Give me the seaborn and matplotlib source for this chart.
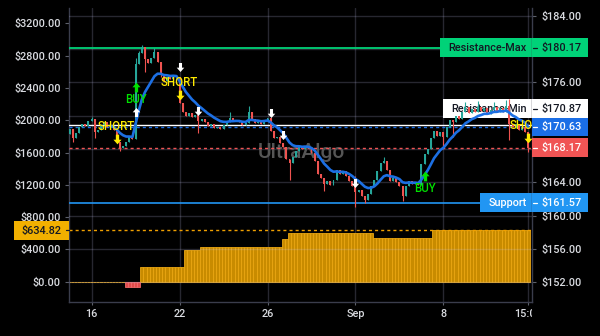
import numpy as np
import pandas as pd
import matplotlib
matplotlib.use("Agg")
import matplotlib.pyplot as plt
from matplotlib.patches import Rectangle
from matplotlib.lines import Line2D
from matplotlib.path import Path
from matplotlib.ticker import FuncFormatter
from matplotlib.transforms import Bbox, TransformedBbox, IdentityTransform, offset_copy
import seaborn as sns

# ---------------- data: hourly session bars, Aug 15 - Sep 13 ----------------
first_open = 169.8
closes = [
    170.4, 169.3, 169.9, 170.6, 171.0, 170.8, 171.4,   # Aug 15
    171.6, 170.0, 170.3, 170.9, 171.2, 170.6, 170.8,   # Aug 16
    170.3, 168.9, 168.1, 168.4, 168.8, 169.5, 169.2,   # Aug 17
    178.2, 179.5, 180.2, 178.8, 178.3, 178.9, 179.6,   # Aug 18
    178.4, 177.0, 176.2, 176.7, 176.4, 176.9, 176.6,   # Aug 19
    173.5, 172.4, 172.0, 172.3, 171.9, 172.1, 171.4,   # Aug 22
    171.6, 171.2, 170.8, 171.0, 170.5, 170.6, 170.4,   # Aug 23
    170.9, 171.2, 171.7, 171.4, 171.5, 171.3, 170.9,   # Aug 24
    171.1, 172.5, 171.6, 171.1, 171.3, 171.0, 171.5,   # Aug 25
    171.7, 170.2, 169.3, 169.5, 168.7, 168.2, 166.8,   # Aug 26
    166.3, 167.0, 167.8, 168.3, 168.0, 168.4, 168.1,   # Aug 29
    167.5, 166.5, 165.0, 164.5, 163.8, 164.2, 163.7,   # Aug 30
    164.3, 165.5, 165.0, 165.3, 164.8, 164.2, 163.6,   # Aug 31
    162.8, 163.1, 162.3, 161.9, 162.6, 163.5, 164.3,   # Sep 1
    165.4, 166.3, 166.6, 165.5, 164.1, 164.5, 164.0,   # Sep 2
    163.6, 162.3, 163.6, 164.2, 163.8, 164.0, 163.7,   # Sep 6
    166.2, 167.4, 168.0, 169.3, 170.2, 169.6, 170.1,   # Sep 7
    169.4, 170.6, 171.5, 171.2, 172.0, 171.6, 172.5,   # Sep 8
    173.0, 172.3, 172.8, 172.4, 173.0, 172.6, 172.9,   # Sep 9
    172.2, 172.7, 173.1, 172.5, 172.9, 172.4, 173.2,   # Sep 12
    171.0, 170.6, 171.0, 170.3, 170.7, 170.1, 168.17,  # Sep 13
]
wick_highs = {7: 171.8, 21: 178.9, 22: 179.8, 23: 180.5, 27: 180.1, 51: 172.4,
              57: 173.2, 91: 164.8, 100: 167.0, 126: 173.7, 130: 173.8,
              135: 173.7, 139: 173.9, 140: 174.0}
wick_lows = {1: 168.8, 8: 169.3, 16: 167.8, 24: 177.3, 29: 176.6, 41: 169.9,
             70: 164.3, 81: 162.9, 91: 161.0, 94: 161.5, 106: 161.8,
             119: 168.3, 122: 169.5, 140: 169.1, 146: 167.7}

session_ticks = [7, 35, 63, 91, 119, 146]
session_labels = ["16", "22", "26", "Sep", "8", "15:00"]

# strategy equity, one value per bar (level, number of bars it lasts)
equity_levels = [0.0, -66.0, 182.0, 398.0, 428.0, 529.0, 603.0, 541.0, 634.82]
equity_runs = [18, 5, 14, 5, 26, 2, 27, 19, 31]

resistance_max = 180.17
resistance_min = 170.87
trail_stop = 170.63
support = 161.57

short_bars = [15, 35, 146]
short_levels = [170.76, 176.04, 170.88]
buy_bars = [21, 113]
buy_levels = [174.0, 163.3]
exit_bars = [21, 35, 41, 64, 68, 91]
exit_up = [True, False, False, False, False, False]
exit_levels = [172.4, 177.8, 172.56, 172.3, 169.7, 163.9]

price_ticks = [152, 156, 160, 164, 168, 172, 176, 180, 184]
equity_ticks = [0, 400, 800, 1200, 1600, 2000, 2400, 2800, 3200]

# ---------------- style ----------------
BG = "#000000"
TXT = "#d9dbe0"
DARK = "#131722"
FRAME = "#3a3d4c"
TICK = "#5d606b"
GRID_RGB = (0.78, 0.78, 0.95)
GRID_ALPHA = 0.2
UP = "#26a69a"
DOWN = "#ef5350"
MA_BLUE = "#1c6fe3"
GOLD = "#c88b00"
GOLD_EDGE = "#eaa612"
LOSS = "#e04a4a"
LOSS_EDGE = "#ee6a6a"
GOLD_TAG = "#f2b000"
RES_GREEN = "#00d278"
TRAIL_BLUE = "#1a6ee6"
LAST_RED = "#f05454"
SUPPORT_BLUE = "#2196f3"
SIG_YELLOW = "#ffea00"
SIG_GREEN = "#00e000"
FS = 7.8
TAG_H = 18.5
W, H = 600, 336

sns.set_theme(style="dark", rc={
    "figure.facecolor": BG, "axes.facecolor": BG, "savefig.facecolor": BG,
    "axes.edgecolor": FRAME, "text.color": TXT, "xtick.color": TXT,
    "ytick.color": TXT, "axes.labelcolor": TXT,
})
plt.rcParams["font.family"] = ["Roboto", "DejaVu Sans"]
plt.rcParams["font.weight"] = "medium"

n = len(closes)
bars = np.arange(n)
c = np.array(closes)
o = np.array([first_open] + closes[:-1])
hi = np.maximum(o, c)
lo = np.minimum(o, c)
for k, v in wick_highs.items():
    hi[k] = max(hi[k], v)
for k, v in wick_lows.items():
    lo[k] = min(lo[k], v)
rising = c >= o
candle_colors = np.where(rising, UP, DOWN)

prices = pd.DataFrame({"bar": bars, "open": o, "close": c, "high": hi, "low": lo})
prices["ema"] = prices["close"].ewm(span=10, adjust=False).mean()
prices.loc[prices["bar"] < 13, "ema"] = np.nan

equity = np.repeat(equity_levels, equity_runs)
eq_df = pd.DataFrame({"bar": bars, "equity": equity,
                      "side": np.where(equity < 0, "loss", "gain")})

fig = plt.figure(figsize=(W / 100, H / 100), dpi=100)
ax_eq = fig.add_axes([69.3 / W, 1 - 302.3 / H, 462.4 / W, 294.3 / H])
ax_eq.set_facecolor(BG)
ax = ax_eq.twinx()

# equity histogram (left scale)
sns.barplot(data=eq_df, x="bar", y="equity", hue="side",
            palette={"gain": GOLD, "loss": LOSS}, native_scale=True,
            dodge=False, width=1.0, errorbar=None, legend=False,
            saturation=1, linewidth=0.6, edgecolor=GOLD_EDGE, ax=ax_eq)
for p in ax_eq.patches:
    if p.get_y() + p.get_height() < 0 or p.get_height() < 0:
        p.set_edgecolor(LOSS_EDGE)
ax_eq.axhline(equity[-1], color="#f0a000", lw=1.0, ls=(0, (2.2, 2.2)), zorder=3)

# candles (right scale)
ax.vlines(prices["bar"], prices["low"], prices["high"], colors=candle_colors,
          lw=0.8, zorder=3)
ax.bar(prices["bar"], np.maximum(np.abs(c - o), 0.06), bottom=np.minimum(o, c),
       width=0.62, color=candle_colors, lw=0, zorder=3)
sns.lineplot(data=prices, x="bar", y="ema", color=MA_BLUE, lw=1.9,
             estimator=None, ax=ax, zorder=3.5)

# levels
ax.axhline(resistance_max, color=RES_GREEN, lw=1.3, zorder=1.5)
ax.axhline(resistance_min, color="white", lw=1.0, zorder=1.5)
ax.axhline(trail_stop, color=TRAIL_BLUE, lw=1.0, ls=(0, (2.2, 2.2)), zorder=1.5)
ax.axhline(c[-1], color=LAST_RED, lw=1.0, ls=(0, (2.2, 2.2)), zorder=1.5)
ax.axhline(support, color=SUPPORT_BLUE, lw=1.2, zorder=1.5)

ax.text(0.501, 0.51, "UltraAlgo", transform=ax.transAxes, ha="center",
        va="center", fontsize=15, color="#555555", zorder=1)

# signal markers
ARROW_UP = Path([(0, 0.5), (0.42, 0.02), (0.17, 0.02), (0.17, -0.5),
                 (-0.17, -0.5), (-0.17, 0.02), (-0.42, 0.02), (0, 0.5)], closed=True)
ARROW_DOWN = Path(ARROW_UP.vertices * np.array([1, -1]), ARROW_UP.codes)
below = offset_copy(ax.transData, fig=fig, x=0, y=-9, units="points")
above = offset_copy(ax.transData, fig=fig, x=0, y=9, units="points")

for b, lv in zip(short_bars, short_levels):
    ax.text(b, lv, "SHORT", color=SIG_YELLOW, ha="center", va="center",
            fontsize=8.3, zorder=5, clip_on=True)
ax.plot(short_bars, short_levels, ls="none", marker=ARROW_DOWN, ms=7,
        mew=0, color=SIG_YELLOW, transform=below, zorder=5)
for b, lv in zip(buy_bars, buy_levels):
    ax.text(b, lv, "BUY", color=SIG_GREEN, ha="center", va="center",
            fontsize=8.3, zorder=5, clip_on=True)
ax.plot(buy_bars, buy_levels, ls="none", marker=ARROW_UP, ms=7, mew=0,
        color=SIG_GREEN, transform=above, zorder=5)
for b, lv, up in zip(exit_bars, exit_levels, exit_up):
    ax.plot([b], [lv], ls="none", marker=ARROW_UP if up else ARROW_DOWN,
            ms=6.5, mew=0, color="white", zorder=5)

# axes, ticks, grid
ax_eq.set_xlim(-0.1, 147.1)
ax_eq.set_ylim(-255.1, 3389.5)
ax.set_ylim(149.6, 184.924)
ax_eq.set_xlabel("")
ax_eq.set_ylabel("")
ax.set_xlabel("")
ax.set_ylabel("")

ax_eq.set_xticks(session_ticks, labels=session_labels)
ax_eq.set_yticks(equity_ticks)
ax.set_yticks(price_ticks)
ax_eq.yaxis.set_major_formatter(FuncFormatter(lambda v, _: f"${v:.2f}"))

ax_eq.tick_params(axis="y", left=True, right=False, length=3, width=0.8,
                  color=TICK, labelsize=FS, pad=3, labelcolor=TXT)
ax.tick_params(axis="y", right=True, left=False, length=3, width=0.8,
               color=TICK, labelsize=FS, pad=4.2, labelcolor=TXT)
ax_eq.tick_params(axis="x", bottom=True, length=2, width=0.8, color=TICK,
                  labelsize=FS, pad=3, labelcolor=TXT)

ax_eq.grid(axis="x", color=GRID_RGB, alpha=GRID_ALPHA, lw=1.0)
ax_eq.grid(axis="y", visible=False)
ax_eq.set_axisbelow(True)
ax.grid(axis="y", color=GRID_RGB, alpha=GRID_ALPHA, lw=1.0)
ax.set_axisbelow(True)

for side in ["top", "right"]:
    ax_eq.spines[side].set_visible(False)
for side in ["left", "bottom"]:
    ax_eq.spines[side].set_color(FRAME)
    ax_eq.spines[side].set_linewidth(1.0)
for side in ["top", "left", "bottom"]:
    ax.spines[side].set_visible(False)
ax.spines["right"].set_color(FRAME)
ax.spines["right"].set_linewidth(1.0)

# ---------------- price / equity tags ----------------
renderer = fig.canvas.get_renderer()
x_left = ax.transAxes.transform((0, 0))[0]
x_right = ax.transAxes.transform((1, 0))[0]
ax_w = ax.transAxes.transform((1, 1))[0] - x_left
ax_h = ax.transAxes.transform((1, 1))[1] - ax.transAxes.transform((0, 0))[1]

# clip the last time label where the price scale begins
clip = TransformedBbox(Bbox([[0, 0], [x_right, H]]), IdentityTransform())
for lbl in ax_eq.get_xticklabels():
    lbl.set_clip_box(clip)
    lbl.set_clip_on(True)


def fig_rect(x0, yc, w, color):
    fig.add_artist(Rectangle((x0 / W, (yc - TAG_H / 2) / H), w / W, TAG_H / H,
                             transform=fig.transFigure, facecolor=color,
                             edgecolor="none", zorder=5))


def fig_tick(x0, x1, yc, color):
    fig.add_artist(Line2D([x0 / W, x1 / W], [yc / H, yc / H],
                          transform=fig.transFigure, color=color, lw=0.9, zorder=6))


def fig_label(x, yc, s, color, ha):
    fig.text(x / W, yc / H, s, color=color, ha=ha, va="center",
             fontsize=FS, zorder=6)


def to_axes(xp, yp):
    return ax.transAxes.inverted().transform((xp, yp))


tags = sorted([
    (support, "Support", SUPPORT_BLUE, "white"),
    (c[-1], None, LAST_RED, "white"),
    (trail_stop, None, TRAIL_BLUE, "white"),
    (resistance_min, "Resistance-Min", "white", DARK),
    (resistance_max, "Resistance-Max", RES_GREEN, DARK),
], key=lambda t: t[0])

covered = []
prev = None
for value, name, face, fg in tags:
    yc = ax.transData.transform((0, value))[1]
    if prev is not None and yc - prev < TAG_H:
        yc = prev + TAG_H
    prev = yc
    covered.append((yc - TAG_H / 2, yc + TAG_H / 2))
    fig_rect(x_right + 0.8, yc, 56, face)
    fig_tick(x_right + 1.2, x_right + 5.2, yc, fg)
    fig_label(x_right + 9.8, yc, f"${value:.2f}", fg, "left")
    if name:
        tx, ty = to_axes(x_right - 5, yc)
        t = ax.text(tx, ty, name, transform=ax.transAxes, ha="right",
                    va="center", color=fg, fontsize=FS, zorder=2.1)
        tw = t.get_window_extent(renderer).width
        x0 = x_right - 5 - tw - 8
        rx, ry = to_axes(x0, yc - TAG_H / 2)
        ax.add_patch(Rectangle((rx, ry), (x_right - x0) / ax_w, TAG_H / ax_h,
                               transform=ax.transAxes, facecolor=face,
                               edgecolor="none", zorder=2))

# price scale labels that sit under a tag are not shown
hidden = {v for v in price_ticks
          if any(a <= ax.transData.transform((0, v))[1] <= b for a, b in covered)}
ax.yaxis.set_major_formatter(
    FuncFormatter(lambda v, _: "" if round(v) in hidden else f"${v:.2f}"))

yc = ax_eq.transData.transform((0, equity[-1]))[1]
fig_rect(14, yc, x_left - 14, GOLD_TAG)
fig_tick(x_left - 3.5, x_left, yc, DARK)
fig_label(x_left - 8.3, yc, f"${equity[-1]:.2f}", DARK, "right")

fig.savefig("out.png", dpi=100, facecolor=BG)
